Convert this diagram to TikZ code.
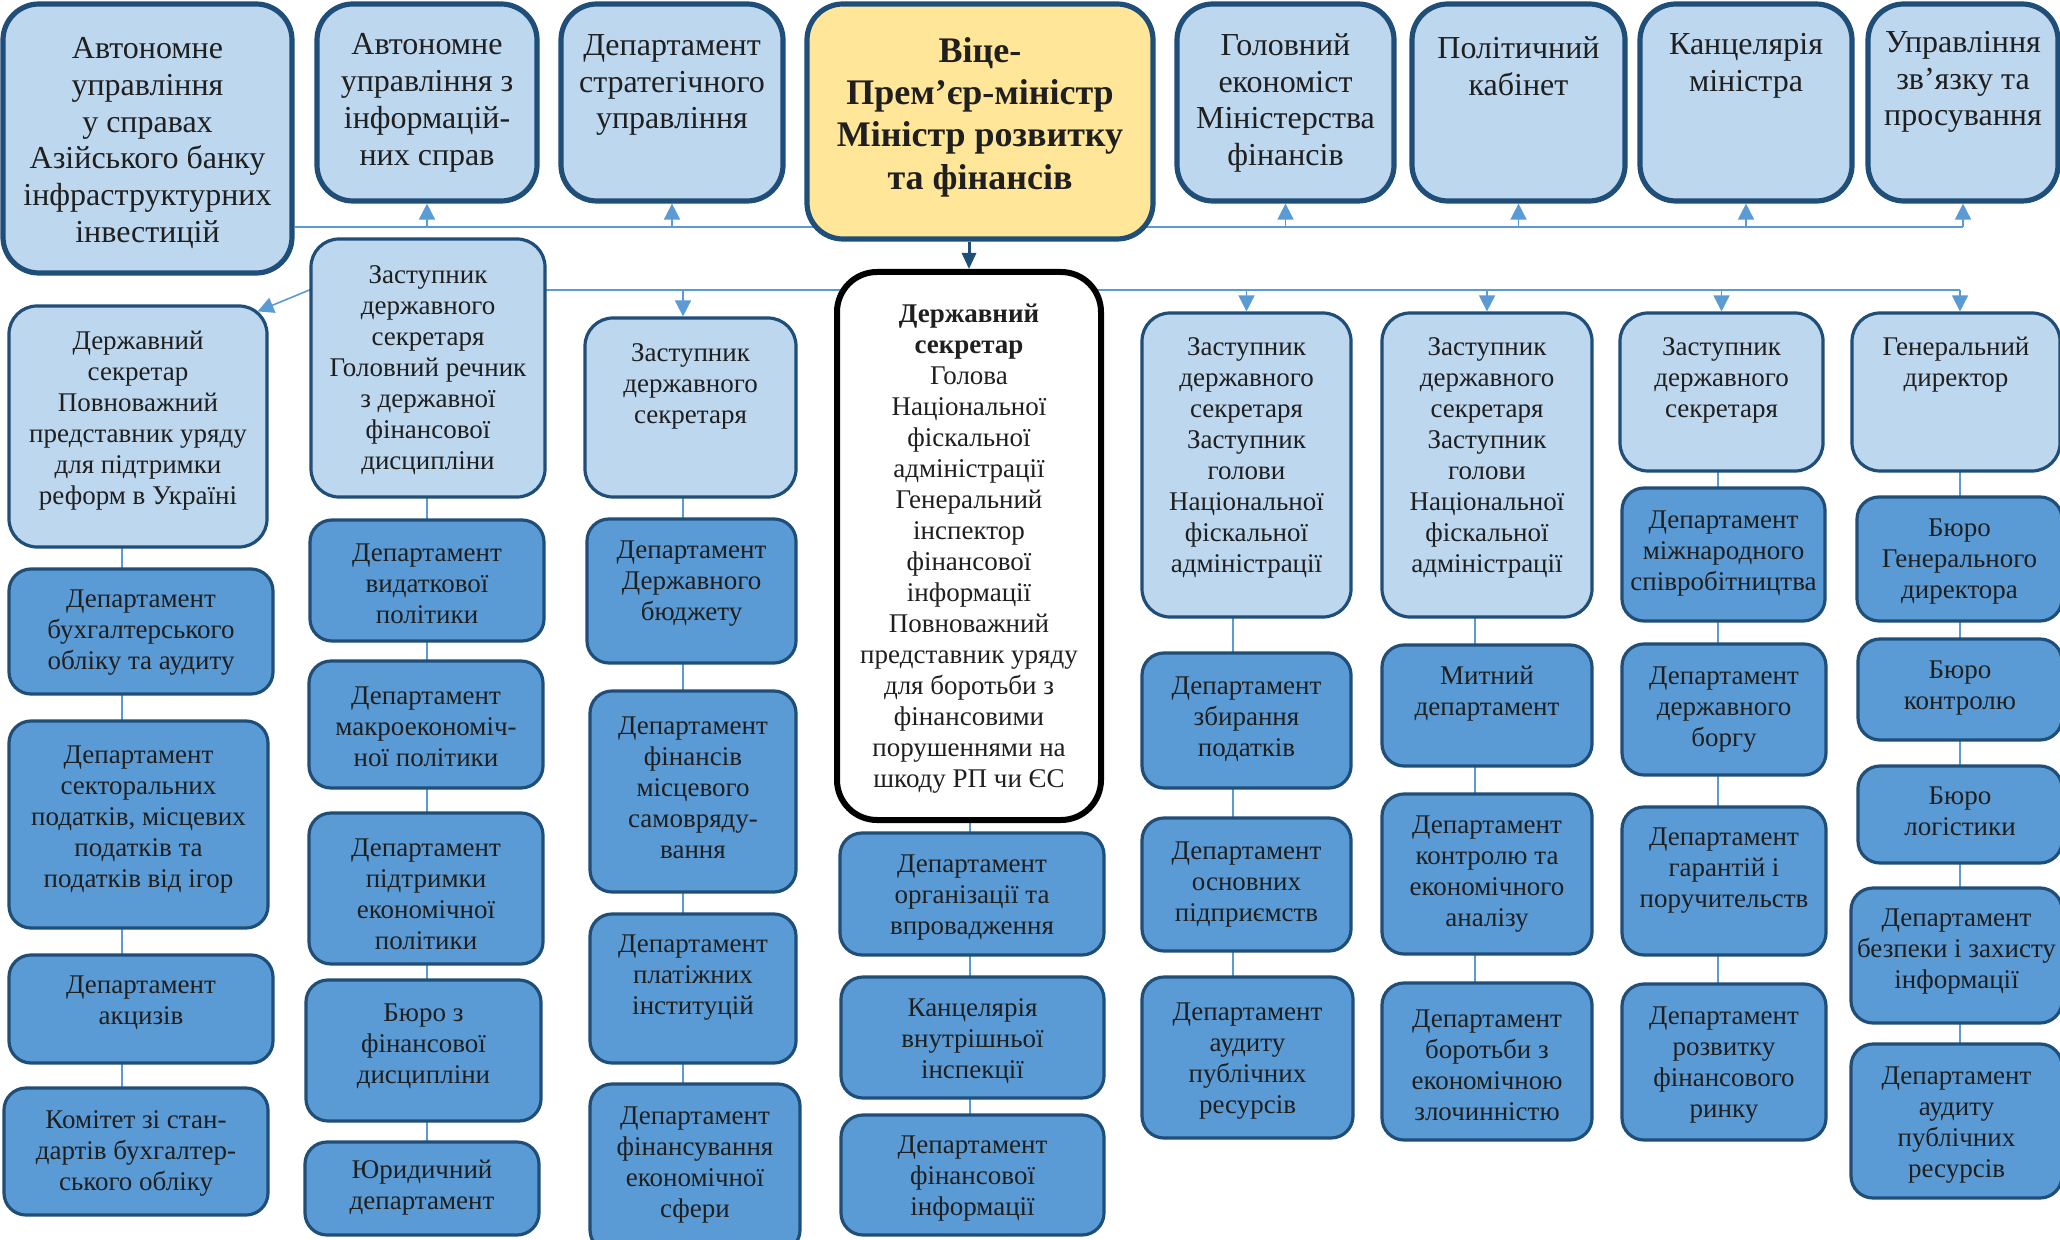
\documentclass[tikz,border=0pt]{standalone}
\usepackage{fontspec}
\setmainfont{Liberation Serif}
\usetikzlibrary{arrows.meta,calc}
\definecolor{lt}{HTML}{BDD7EE}
\definecolor{dk}{HTML}{5B9BD5}
\definecolor{bd}{HTML}{1F4E79}
\definecolor{yl}{HTML}{FFE699}
\definecolor{ln}{HTML}{5B9BD5}
\pgfdeclarelayer{bg}
\pgfdeclarelayer{paper}
\pgfsetlayers{paper,bg,main}
\tikzset{
  topbox/.style={draw=bd, line width=2.6pt, fill=lt, rounded corners=18pt},
  vpbox/.style={draw=bd, line width=2.6pt, fill=yl, rounded corners=18pt},
  lbox/.style={draw=bd, line width=1.6pt, fill=lt, rounded corners=14pt},
  dbox/.style={draw=bd, line width=1.6pt, fill=dk, rounded corners=11pt},
  dsbox/.style={draw=black, line width=3pt, fill=white, rounded corners=20pt},
  txt/.style={align=center, inner sep=0pt, text=black!88, font=\fontsize{13.5}{15.5}\selectfont},
  toptxt/.style={txt, font=\fontsize{16}{18.4}\selectfont},
  vptxt/.style={txt, font=\bfseries\fontsize{18}{21.2}\selectfont},
  conn/.style={draw=ln, line width=0.8pt},
  arr/.style={conn, -{Triangle[length=8pt,width=8pt]}},
  darr/.style={draw=bd, line width=1.5pt, -{Triangle[length=8pt,width=7pt]}},
}
\newcommand\bx[9][txt]{%
  \node[#2, inner sep=0pt, minimum width={(#6-#4)*0.5pt}, minimum height={(#7-#5)*0.5pt}] (#3) at ({(#4+#6)/2},{(#5+#7)/2}) {};
  \node[#1] (#3t) at ({(#4+#6)/2},#8) {#9};}
\begin{document}
\begin{tikzpicture}[x=0.5pt,y=-0.5pt]
\useasboundingbox (0,0) rectangle (2060,1240);
\begin{pgfonlayer}{paper}
\fill[white] (0,0) rectangle (2060,1240);
\end{pgfonlayer}
% top row
\bx[toptxt]{topbox}{b1}{3}{4}{292}{273}{143}{Автономне\\управління\\у справах\\Азійського банку\\інфраструктурних\\інвестицій}
\bx[toptxt]{topbox}{b2}{317}{4}{537}{201}{103}{Автономне\\управління з\\інформацій-\\них справ}
\bx[toptxt]{topbox}{b3}{561}{4}{783}{201}{85}{Департамент\\стратегічного\\управління}
\bx[vptxt]{vpbox}{vp}{807}{4}{1153}{239}{117}{Віце-\\Прем’єр-міністр\\Міністр розвитку\\та фінансів}
\bx[toptxt]{topbox}{b5}{1177}{4}{1394}{201}{103}{Головний\\економіст\\Міністерства\\фінансів}
\bx[toptxt]{topbox}{b6}{1412}{4}{1625}{201}{66}{Політичний\\кабінет}
\bx[toptxt]{topbox}{b7}{1640}{4}{1852}{201}{66}{Канцелярія\\міністра}
\bx[toptxt]{topbox}{b8}{1868}{4}{2058}{201}{82}{Управління\\зв’язку та\\просування}
% column 1
\bx{lbox}{c1a}{9}{306}{267}{547}{421}{Державний\\секретар\\Повноважний\\представник уряду\\для підтримки\\реформ в Україні}
\bx{dbox}{c1b}{9}{569}{273}{694}{633}{Департамент\\бухгалтерського\\обліку та аудиту}
\bx{dbox}{c1c}{9}{721}{268}{928}{820}{Департамент\\секторальних\\податків, місцевих\\податків та\\податків від ігор}
\bx{dbox}{c1d}{9}{955}{273}{1063}{1003}{Департамент\\акцизів}
\bx{dbox}{c1e}{4}{1088}{268}{1215}{1153}{Комітет зі стан-\\дартів бухгалтер-\\ського обліку}
% column 2
\bx{lbox}{c2a}{311}{239}{545}{497}{370}{Заступник\\державного\\секретаря\\Головний речник\\з державної\\фінансової\\дисципліни}
\bx{dbox}{c2b}{310}{520}{544}{641}{584}{Департамент\\видаткової\\політики}
\bx{dbox}{c2c}{309}{661}{543}{788}{727}{Департамент\\макроекономіч-\\ної політики}
\bx{dbox}{c2d}{309}{813}{543}{964}{894}{Департамент\\підтримки\\економічної\\політики}
\bx{dbox}{c2e}{306}{980}{541}{1121}{1046}{Бюро з\\фінансової\\дисципліни}
\bx{dbox}{c2f}{305}{1142}{539}{1235}{1188}{Юридичний\\департамент}
% column 3
\bx{lbox}{c3a}{585}{318}{796}{497}{386}{Заступник\\державного\\секретаря}
\bx{dbox}{c3b}{587}{519}{796}{663}{584}{Департамент\\Державного\\бюджету}
\bx{dbox}{c3c}{590}{691}{796}{892}{788}{Департамент\\фінансів\\місцевого\\самовряду-\\вання}
\bx{dbox}{c3d}{590}{914}{796}{1063}{978}{Департамент\\платіжних\\інституцій}
\bx{dbox}{c3e}{590}{1084}{800}{1252}{1165}{Департамент\\фінансування\\економічної\\сфери}
% column 4
\bx{dsbox}{ds}{837}{272}{1101}{820}{549}{\textbf{Державний}\\\textbf{секретар}\\Голова\\Національної\\фіскальної\\адміністрації\\Генеральний\\інспектор\\фінансової\\інформації\\Повноважний\\представник уряду\\для боротьби з\\фінансовими\\порушеннями на\\шкоду РП чи ЄС}
\bx{dbox}{c4b}{840}{833}{1104}{955}{898}{Департамент\\організації та\\впровадження}
\bx{dbox}{c4c}{841}{977}{1104}{1098}{1041}{Канцелярія\\внутрішньої\\інспекції}
\bx{dbox}{c4d}{841}{1115}{1104}{1235}{1179}{Департамент\\фінансової\\інформації}
% column 5
\bx{lbox}{c5a}{1142}{313}{1351}{617}{458}{Заступник\\державного\\секретаря\\Заступник\\голови\\Національної\\фіскальної\\адміністрації}
\bx{dbox}{c5b}{1142}{653}{1351}{788}{719}{Департамент\\збирання\\податків}
\bx{dbox}{c5c}{1142}{818}{1351}{951}{885}{Департамент\\основних\\підприємств}
\bx{dbox}{c5d}{1142}{977}{1353}{1138}{1061}{Департамент\\аудиту\\публічних\\ресурсів}
% column 6
\bx{lbox}{c6a}{1382}{313}{1592}{617}{458}{Заступник\\державного\\секретаря\\Заступник\\голови\\Національної\\фіскальної\\адміністрації}
\bx{dbox}{c6b}{1382}{645}{1592}{766}{694}{Митний\\департамент}
\bx{dbox}{c6c}{1382}{794}{1592}{954}{874}{Департамент\\контролю та\\економічного\\аналізу}
\bx{dbox}{c6d}{1382}{983}{1592}{1140}{1065}{Департамент\\боротьби з\\економічною\\злочинністю}
% column 7
\bx{lbox}{c7a}{1620}{313}{1823}{471}{380}{Заступник\\державного\\секретаря}
\bx{dbox}{c7b}{1622}{488}{1825}{621}{554}{Департамент\\міжнародного\\співробітництва}
\bx{dbox}{c7c}{1622}{644}{1826}{775}{710}{Департамент\\державного\\боргу}
\bx{dbox}{c7d}{1622}{807}{1826}{955}{871}{Департамент\\гарантій і\\поручительств}
\bx{dbox}{c7e}{1622}{984}{1826}{1140}{1065}{Департамент\\розвитку\\фінансового\\ринку}
% column 8
\bx{lbox}{c8a}{1852}{313}{2060}{471}{365}{Генеральний\\директор}
\bx{dbox}{c8b}{1857}{497}{2062}{621}{562}{Бюро\\Генерального\\директора}
\bx{dbox}{c8c}{1858}{639}{2062}{740}{688}{Бюро\\контролю}
\bx{dbox}{c8d}{1858}{766}{2062}{863}{811}{Бюро\\логістики}
\bx{dbox}{c8e}{1851}{888}{2062}{1023}{952}{Департамент\\безпеки і захисту\\інформації}
\bx{dbox}{c8f}{1851}{1044}{2062}{1198}{1125}{Департамент\\аудиту\\публічних\\ресурсів}
% helper coordinates
\coordinate (bus1) at (0,227);
\coordinate (bus2) at (0,290);
\coordinate (k1) at (122,0);
\coordinate (k2) at (427,0);
\coordinate (k3) at (683,0);
\coordinate (k4) at (970,0);
\coordinate (k5) at (1233,0);
\coordinate (k6) at (1475,0);
\coordinate (k7) at (1718,0);
\coordinate (k8) at (1960,0);
\begin{pgfonlayer}{bg}
  % top bus
  \draw[conn, line width=1pt] (b1.east |- bus1) -- (b8.south |- bus1);
  \foreach \n in {b2,b3,b5,b6,b7,b8} \draw[arr] (\n.south |- bus1) -- (\n.south);
  % second bus
  \draw[conn, line width=1pt] (c2a.west |- bus2) -- (k8 |- bus2);
  \draw[arr] (k3 |- bus2) -- (c3a.north -| k3);
  \draw[arr] (c5a.north |- bus2) -- (c5a.north);
  \draw[arr] (c6a.north |- bus2) -- (c6a.north);
  \draw[arr] (c7a.north |- bus2) -- (c7a.north);
  \draw[arr] (k8 |- bus2) -- (c8a.north -| k8);
  \draw[arr] (c2a.west |- bus2) -- ($(c1a.north east)+(-11,7)$);
  % column connectors
  \draw[conn] (c1a.center -| k1) -- (c1e.center -| k1);
  \draw[conn] (c2a.center -| k2) -- (c2f.center -| k2);
  \draw[conn] (c3a.center -| k3) -- (c3e.center -| k3);
  \draw[conn] (ds.center -| k4) -- (c4d.center -| k4);
  \draw[conn] (c5a.center -| k5) -- (c5d.center -| k5);
  \draw[conn] (c6a.center -| k6) -- (c6d.center -| k6);
  \draw[conn] (c7a.center -| k7) -- (c7e.center -| k7);
  \draw[conn] (c8a.center -| k8) -- (c8f.center -| k8);
\end{pgfonlayer}
\draw[darr] (ds.north |- vp.south) -- (ds.north);
\end{tikzpicture}
\end{document}
